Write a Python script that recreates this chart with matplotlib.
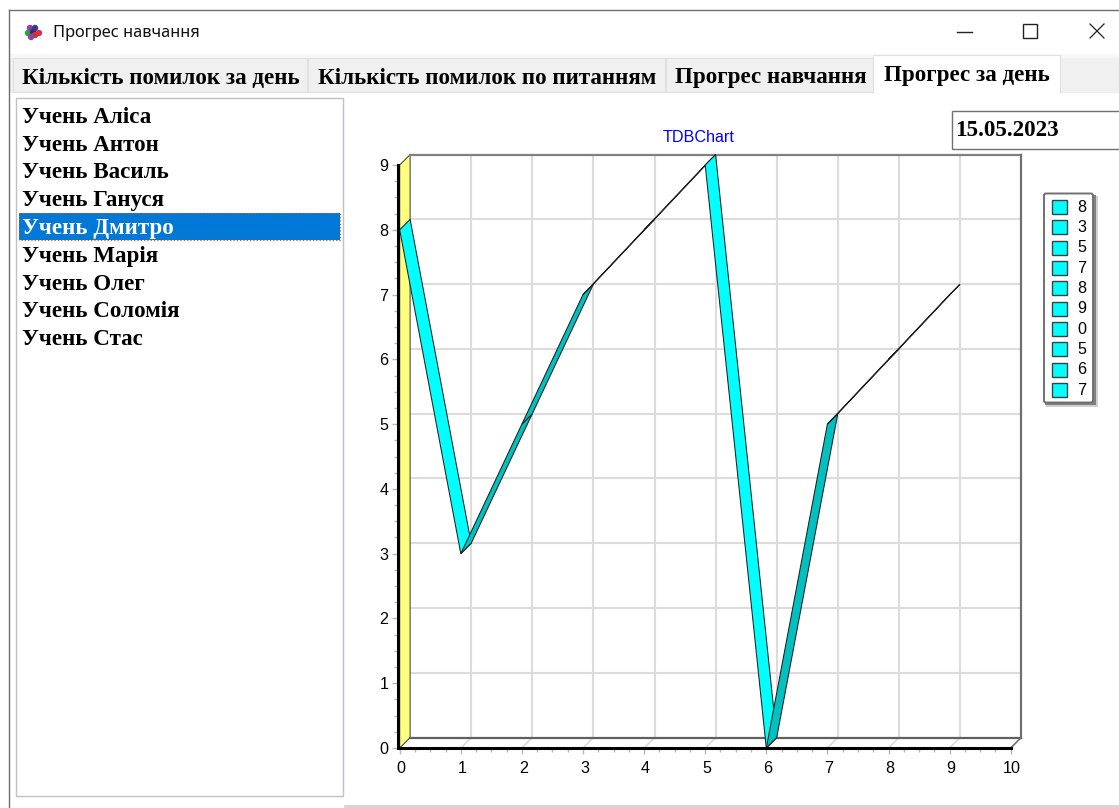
import matplotlib
matplotlib.use("Agg")
import matplotlib.pyplot as plt
from matplotlib.patches import Rectangle, Polygon, Circle, FancyBboxPatch
from matplotlib.ticker import MultipleLocator
from matplotlib.transforms import ScaledTranslation

# --- data ---
window_title = "Прогрес навчання"
tab_labels = ["Кількість помилок за день", "Кількість помилок по питанням", "Прогрес навчання", "Прогрес за день"]
students = ["Учень Аліса", "Учень Антон", "Учень Василь", "Учень Гануся", "Учень Дмитро",
            "Учень Марія", "Учень Олег", "Учень Соломія", "Учень Стас"]
selected_student = "Учень Дмитро"
date_text = "15.05.2023"
chart_title = "TDBChart"
x_values = [0, 1, 2, 3, 4, 5, 6, 7, 8, 9]
y_values = [8, 3, 5, 7, 8, 9, 0, 5, 6, 7]
x_ticks = [0, 1, 2, 3, 4, 5, 6, 7, 8, 9, 10]
y_ticks = [0, 1, 2, 3, 4, 5, 6, 7, 8, 9]

W, H = 1119, 808
SERIF = "Liberation Serif"
SANS = "Liberation Sans"
UI_SIZE = 16.6
CHART_SIZE = 11.6

fig = plt.figure(figsize=(W / 100, H / 100), dpi=100, facecolor="white")

# --- window chrome, drawn in pixel coordinates ---
ui = fig.add_axes([0, 0, 1, 1], zorder=1)
ui.set_xlim(0, W)
ui.set_ylim(H, 0)
ui.axis("off")

ui.plot([8.5, 8.5], [9.5, H], color="#6e6e6e", lw=1)
ui.plot([8.5, W], [9.5, 9.5], color="#6e6e6e", lw=1)

for (cx, cy, c) in [(30, 28, "#8a3fb0"), (35, 28, "#3a3a8c"), (28, 33, "#2f9e44"), (33, 32, "#3a2a70"),
                    (35, 35, "#c0392b"), (39, 33, "#d6304a"), (31, 37, "#8e44ad")]:
    ui.add_patch(Circle((cx, cy), 3.2, color=c, lw=0))
ui.text(53, 33, window_title, family="Noto Sans", fontsize=11.8, va="center", color="#111111")

ui.plot([957, 972], [32, 32], color="#222222", lw=1)
ui.add_patch(Rectangle((1023, 24), 14, 14, fc="none", ec="#222222", lw=1))
ui.plot([1090, 1104], [24, 38], color="#222222", lw=0.9)
ui.plot([1090, 1104], [38, 24], color="#222222", lw=0.9)

# tab strip
ui.add_patch(Rectangle((9, 54), W - 9, 39, fc="#f0f0f0", ec="none"))
ui.add_patch(Rectangle((9, 54), W - 9, 4, fc="#f7f7f7", ec="none"))
tab_spans = [(13, 307), (308, 665), (666, 873)]
tab_text_x = [22, 318, 675, 884]
for (a, b) in tab_spans:
    ui.add_patch(Rectangle((a, 58), b - a, 34, fc="#f0f0f0", ec="#e0e0e0", lw=0.8))
ui.add_patch(Rectangle((873, 55), 187, 40, fc="white", ec="none"))
ui.plot([873, 873, 1060, 1060], [93, 55, 55, 93], color="#e0e0e0", lw=0.8)
for i, label in enumerate(tab_labels):
    ty = 75 if i == 3 else 78
    ui.text(tab_text_x[i], ty, label, family=SERIF, weight="bold", fontsize=UI_SIZE, va="center", color="black")

# student list
ui.add_patch(Rectangle((16, 98), 327, 698, fc="white", ec="#c0c0c8", lw=1))
row_y = [116, 144, 171, 199, 227, 255, 283, 310, 338]
for y, name in zip(row_y, students):
    if name == selected_student:
        ui.add_patch(Rectangle((19, 212.5), 321, 27, fc="#0078d7", ec="none"))
        ui.add_patch(Rectangle((19, 212.5), 321, 27, fc="none", ec="#b8651b", lw=0.9, ls=":"))
    col = "white" if name == selected_student else "black"
    ui.text(22, y + 1.5, name, family=SERIF, weight="bold", fontsize=UI_SIZE, va="center", color=col)

# date box
ui.add_patch(Rectangle((951.5, 110.5), 200, 38, fc="white", ec="#707070", lw=1))
ui.text(955, 131, date_text, family=SERIF, weight="bold", fontsize=UI_SIZE, va="center", color="black")

ui.plot([345, W], [805.5, 805.5], color="#d4d4d4", lw=2)

ui.text(698.5, 138, chart_title, family=SANS, fontsize=CHART_SIZE, color="#0000ff", ha="center", va="center")

# legend
ui.add_patch(Rectangle((1046, 196), 52, 211, fc="#d0d0d0", ec="none"))
ui.add_patch(Rectangle((1045, 195), 51, 210, fc="#808080", ec="none"))
ui.add_patch(FancyBboxPatch((1044, 193.5), 49, 209, boxstyle="round,pad=0,rounding_size=2",
                            fc="white", ec="#707070", lw=1.4))
for i, v in enumerate(y_values):
    ly = 207 + i * 20.35
    ui.add_patch(Rectangle((1052, ly - 7), 15, 14, fc="#00ffff", ec="#404040", lw=1))
    ui.text(1082, ly, str(v), family=SANS, fontsize=CHART_SIZE, ha="center", va="center", color="black")

# --- chart ---
x0, x10 = 399.7, 1010.7
y0, y9 = 748.0, 165.0
ax = fig.add_axes([x0 / W, 1 - y0 / H, (x10 - x0) / W, (y0 - y9) / H], zorder=2)
ax.patch.set_alpha(0)
ax.set_xlim(0, 10)
ax.set_ylim(0, 9)
dx = 10.4 / (x10 - x0) * 10
dy = 10.4 / (y0 - y9) * 9

ax.spines["top"].set_visible(False)
ax.spines["right"].set_visible(False)
ax.spines["left"].set_linewidth(2.2)
ax.spines["bottom"].set_linewidth(2.2)
ax.spines["left"].set_position(("outward", 0.9))
ax.spines["left"].set_zorder(6)
ax.spines["bottom"].set_zorder(6)

ax.set_xticks(x_ticks)
ax.set_yticks(y_ticks)
ax.xaxis.set_minor_locator(MultipleLocator(0.25))
ax.yaxis.set_minor_locator(MultipleLocator(0.25))
ax.tick_params(which="major", length=4.5, width=1, color="#b8b8b8", labelsize=CHART_SIZE, pad=2.5)
ax.tick_params(which="minor", length=3, width=1, color="#b8b8b8")
ax.tick_params(axis="x", which="major", pad=5)
shift = ScaledTranslation(1.5 / 100, 0, fig.dpi_scale_trans)
for lab in ax.get_xticklabels():
    lab.set_family(SANS)
    lab.set_transform(lab.get_transform() + shift)
for lab in ax.get_yticklabels():
    lab.set_family(SANS)

grid_col = "#dcdcdc"
for x in x_ticks[1:-1]:
    ax.plot([x + dx, x + dx], [dy, 9 + dy], color=grid_col, lw=1.5, clip_on=False, zorder=1)
    ax.plot([x, x + dx], [0, dy], color=grid_col, lw=1.2, clip_on=False, zorder=1)
for y in y_ticks[1:-1]:
    ax.plot([dx, 10 + dx], [y + dy, y + dy], color=grid_col, lw=1.5, clip_on=False, zorder=1)

# walls
ax.add_patch(Polygon([(0, 0), (dx, dy), (dx, 9 + dy), (0, 9)], closed=True, fc="#ffff80",
                     ec="#333333", lw=0.7, clip_on=False, zorder=2))
ax.plot([dx, 10 + dx], [9 + dy, 9 + dy], color="#808080", lw=1.6, clip_on=False, zorder=2)
ax.plot([10 + dx, 10 + dx], [dy, 9 + dy], color="#707070", lw=1.6, clip_on=False, zorder=2)
ax.plot([dx, 10 + dx], [dy, dy], color="#606060", lw=1.6, clip_on=False, zorder=2)
ax.plot([10, 10 + dx], [0, dy], color="#707070", lw=1.2, clip_on=False, zorder=2)

# ribbon
for i in range(len(x_values) - 1):
    xa, xb = x_values[i], x_values[i + 1]
    ya, yb = y_values[i], y_values[i + 1]
    face = "#00ffff" if yb < ya else "#00c0c0"
    ax.add_patch(Polygon([(xa, ya), (xb, yb), (xb + dx, yb + dy), (xa + dx, ya + dy)], closed=True,
                         fc=face, ec="#202020", lw=0.75, clip_on=False, zorder=3))

fig.savefig("out.png", dpi=100)
